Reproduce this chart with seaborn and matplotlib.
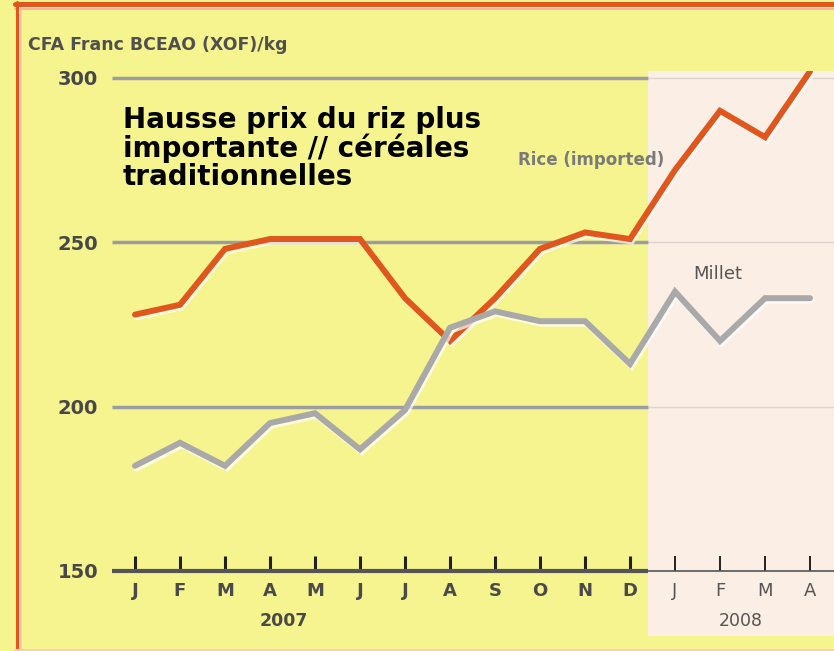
import matplotlib
matplotlib.use("Agg")
import matplotlib.pyplot as plt
import matplotlib.patheffects as pe
from matplotlib.lines import Line2D
import pandas as pd
import seaborn as sns

# Data (CFA Franc BCEAO / kg), Jan 2007 - Apr 2008
months = ["J", "F", "M", "A", "M", "J", "J", "A", "S", "O", "N", "D", "J", "F", "M", "A"]
rice = [228, 231, 248, 251, 251, 251, 233, 220, 233, 248, 253, 251, 272, 290, 282, 302]
millet = [182, 189, 182, 195, 198, 187, 199, 224, 229, 226, 226, 213, 235, 220, 233, 233]
yticks = [150, 200, 250, 300]
years = ["2007", "2008"]
year_pos = [3.3, 13.45]
forecast_start = 11.4  # start of the 2008 shaded zone

YELLOW = "#F5F48F"
SHADE = "#FBEEE4"
ORANGE = "#E0561C"
GREY = "#A9A9A9"

sns.set_style("white")
plt.rcParams["font.family"] = ["DejaVu Sans"]

df = pd.DataFrame({
    "idx": list(range(len(months))) * 2,
    "price": rice + millet,
    "series": ["Rice"] * len(rice) + ["Millet"] * len(millet),
})

fig = plt.figure(figsize=(8.34, 6.51), dpi=100, facecolor=YELLOW)
ax = fig.add_axes([112 / 834, 80 / 651, 722 / 834, 499.6 / 651])
ax.set_facecolor("none")
ax.set_xlim(-0.511, 15.533)
ax.set_ylim(150, 302)

# shaded 2008 zone, reaching below the axis over the tick labels
ax.axvspan(forecast_start, 15.533, ymin=-0.13, ymax=1, color=SHADE, lw=0,
           clip_on=False, zorder=0)

# gridlines: strong in 2007, faint in the shaded zone
ax.hlines(yticks[1:], -0.511, forecast_start, color="#9C9CA2", lw=2.5, zorder=1)
ax.hlines(yticks[1:], forecast_start, 15.533, color="#DDD3CE", lw=1.0, zorder=1)
ax.hlines(150, -0.511, forecast_start, color="#555555", lw=3, zorder=2, clip_on=False)
ax.hlines(150, forecast_start, 15.533, color="#555555", lw=1.2, zorder=2, clip_on=False)

sns.lineplot(data=df, x="idx", y="price", hue="series",
             palette={"Rice": ORANGE, "Millet": GREY}, lw=4.3,
             legend=False, ax=ax, zorder=3)
for line in ax.lines:
    line.set_solid_joinstyle("miter")
    line.set_path_effects([
        pe.SimpleLineShadow(offset=(1.2, -1.8), shadow_color="white", alpha=0.7),
        pe.Normal(),
    ])

for s in ax.spines.values():
    s.set_visible(False)

ax.set_xlabel("")
ax.set_ylabel("")
ax.set_xticks(range(len(months)))
ax.set_xticklabels(months)
ax.tick_params(axis="x", bottom=True, direction="in", length=11, width=2.2,
               color="#222222", pad=8, labelsize=13)
for i, (tick, lab) in enumerate(zip(ax.xaxis.get_major_ticks(), ax.get_xticklabels())):
    if i < 12:
        lab.set_fontweight("bold")
        lab.set_color("#4A4A4A")
    else:
        lab.set_color("#555555")
        tick.tick1line.set_markeredgewidth(1.4)
        tick.tick1line.set_color("#444444")

ax.set_yticks(yticks)
ax.set_yticklabels([str(v) for v in yticks])
ax.tick_params(axis="y", left=False, length=0, pad=10, labelsize=14,
               labelcolor="#484848")
for lab in ax.get_yticklabels():
    lab.set_fontweight("bold")

xtr = ax.get_xaxis_transform()
ax.text(year_pos[0], -0.1, years[0], transform=xtr, ha="center", va="center",
        fontsize=12.5, fontweight="bold", color="#4A4A4A", clip_on=False)
ax.text(year_pos[1], -0.1, years[1], transform=xtr, ha="center", va="center",
        fontsize=12.5, color="#555555", clip_on=False)

# annotations
ax.text(-0.27, 291.5, "Hausse prix du riz plus\nimportante // céréales\ntraditionnelles",
        ha="left", va="top", fontsize=20, fontweight="bold", color="black",
        linespacing=1.0, zorder=5)
ax.text(8.5, 275, "Rice (imported)", ha="left", va="center", fontsize=12,
        color="#7A7A7A", fontweight="bold", zorder=5)
ax.text(12.96, 240.5, "Millet", ha="center", va="center", fontsize=13,
        color="#555555", zorder=5)

fig.text(28 / 834, 1 - 45 / 651, "CFA Franc BCEAO (XOF)/kg", ha="left", va="center",
         fontsize=12.5, fontweight="bold", color="#505050")

# frame of the original graphic
fig.add_artist(Line2D([15 / 834, 1], [1 - 4 / 651] * 2, transform=fig.transFigure,
                      color=ORANGE, lw=3.6))
fig.add_artist(Line2D([15 / 834, 1], [1 - 8.5 / 651] * 2, transform=fig.transFigure,
                      color="#F7B79A", lw=1.5))
fig.add_artist(Line2D([16.5 / 834] * 2, [0, 1 - 2 / 651], transform=fig.transFigure,
                      color=ORANGE, lw=2.2))
fig.add_artist(Line2D([19.5 / 834] * 2, [0, 1 - 8 / 651], transform=fig.transFigure,
                      color="#F7C3AA", lw=1.8))
fig.add_artist(Line2D([15 / 834, 1], [1.2 / 651] * 2, transform=fig.transFigure,
                      color="#F8CDB6", lw=2.2))

fig.savefig("out.png", dpi=100, facecolor=YELLOW)
